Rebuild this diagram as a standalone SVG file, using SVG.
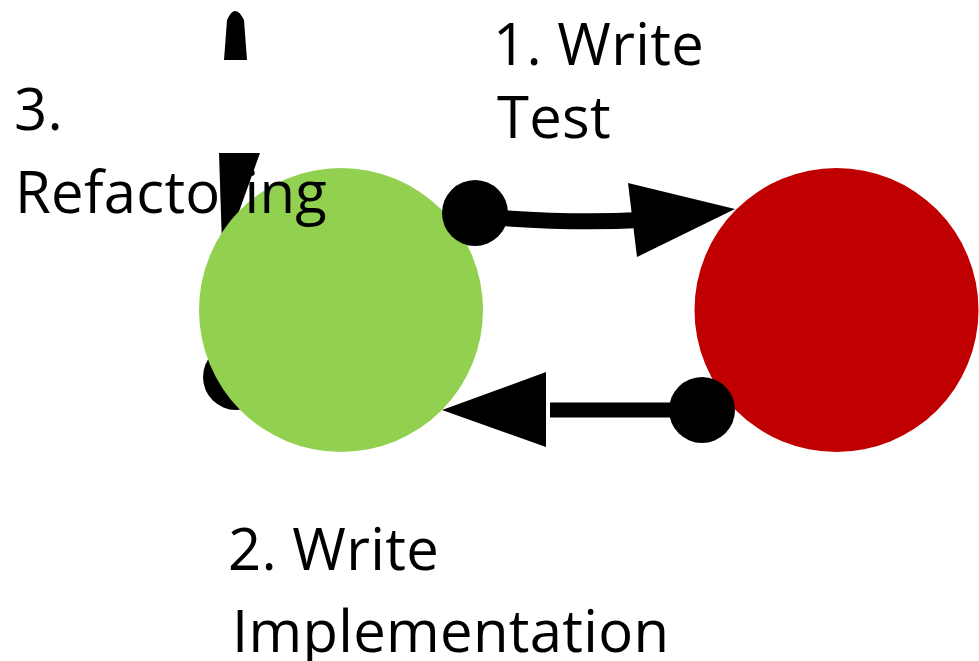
<svg xmlns="http://www.w3.org/2000/svg" width="979" height="661" viewBox="0 0 979 661">
<style>
.lbl{font-family:"Open Sans","Liberation Sans",sans-serif;font-size:58px;font-weight:400;letter-spacing:0.3px;fill:#000}
.ink{fill:#000}
.ln{fill:none;stroke:#000;stroke-width:16}
</style>
<rect width="979" height="661" fill="#fff"/>
<g id="connectors-back">
<g id="edge-refactor">
<circle class="ink" cx="236" cy="377" r="33"/>
<path class="ink" d="M224,60 L227,20 Q235,2 244,20 L247,60 Z"/>
<polygon class="ink" points="219,153 260,153 227,245 222,245"/>
</g>
</g>
<g id="node-green"><circle cx="341" cy="310" r="142" fill="#92D050"/></g>
<g id="node-red"><circle cx="836.5" cy="310" r="142" fill="#C00000"/></g>
<g id="connectors">
<g id="edge-test">
<path class="ln" d="M475,216 Q570,224 640,220"/>
<circle class="ink" cx="475" cy="213" r="33"/>
<polygon class="ink" points="628,183 637,257 735,209"/>
</g>
<g id="edge-impl">
<path class="ln" d="M550,410 L702,410" style="stroke-width:15"/>
<circle class="ink" cx="702" cy="410" r="33"/>
<polygon class="ink" points="546,372 546,447 442,410"/>
</g>
</g>
<g id="labels">
<text class="lbl" x="493" y="65">1. Write</text>
<text class="lbl" x="497" y="138">Test</text>
<text class="lbl" x="14" y="130">3.</text>
<text class="lbl" x="15" y="213">Refactoring</text>
<text class="lbl" x="228" y="570">2. Write</text>
<text class="lbl" x="232" y="652">Implementation</text>
</g>
</svg>
